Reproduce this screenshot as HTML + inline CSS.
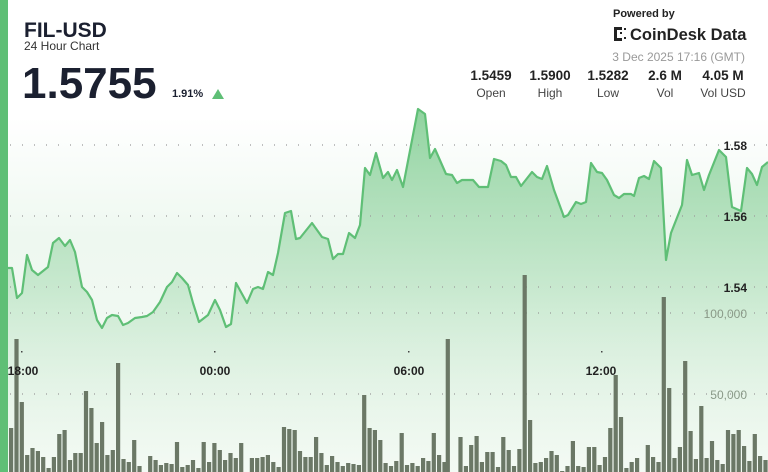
<!DOCTYPE html>
<html><head><meta charset="utf-8"><style>
body{margin:0;width:768px;height:472px;overflow:hidden;background:#fff;font-family:"Liberation Sans",sans-serif;}
svg{position:absolute;left:0;top:0}
</style></head><body>
<svg xmlns="http://www.w3.org/2000/svg" width="768" height="472" viewBox="0 0 768 472">
<defs>
<linearGradient id="bg" x1="0" y1="0" x2="0" y2="1">
<stop offset="0" stop-color="#fff"/><stop offset="0.25" stop-color="#fff"/><stop offset="0.5" stop-color="#eef8f0"/><stop offset="1" stop-color="#f6fbf6"/></linearGradient>
<linearGradient id="ar" x1="0" y1="110" x2="0" y2="472" gradientUnits="userSpaceOnUse">
<stop offset="0" stop-color="#7ccb8e" stop-opacity="0.85"/><stop offset="0.5" stop-color="#a9dcb4" stop-opacity="0.55"/><stop offset="1" stop-color="#e8f5ea" stop-opacity="0.2"/></linearGradient>
</defs>
<rect width="768" height="472" fill="url(#bg)"/>
<path fill="url(#ar)" d="M8,472 L8,268 12,268 17,298 22,293 27,255 32,270 38,275 48,267 53,243 59,238 65,246 70,240 75,252 82,287 87,292 92,300 97,320 102,328 107,318 112,315 118,316 123,325 128,323 135,318 142,317 147,316 153,312 160,302 167,287 172,282 177,273 182,278 188,285 193,303 199,322 208,315 215,300 220,310 226,327 231,324 236,283 247,303 253,289 258,287 263,289 268,272 273,275 278,253 285,213 291,211 296,239 300,238 312,223 322,237 328,239 333,259 338,254 343,254 349,233 355,238 360,225 365,168 370,175 376,153 383,178 388,172 392,180 397,170 403,187 418,109 425,114 430,158 435,149 446,174 452,175 457,183 462,180 473,180 479,187 488,187 494,159 501,161 506,165 511,177 516,177 521,186 532,172 537,177 542,179 547,166 554,190 564,217 568,215 576,202 581,204 586,202 591,163 597,172 602,173 607,180 614,195 619,198 624,194 631,194 634,196 639,178 644,176 649,179 654,161 661,168 666,260 671,233 682,205 687,160 692,175 699,173 704,190 709,175 719,150 726,157 732,207 741,211 747,168 752,174 757,185 762,167 768,162 L768,472 Z"/>
<g stroke="#9a9a9a" stroke-width="1.2" stroke-dasharray="1 11">
<line x1="10" x2="768" y1="145" y2="145"/><line x1="10" x2="768" y1="216" y2="216"/><line x1="10" x2="768" y1="287" y2="287"/><line x1="10" x2="768" y1="313" y2="313"/><line x1="10" x2="768" y1="394" y2="394"/></g>
<g fill="#6b7866">
<rect x="9" y="428" width="4.2" height="47"/><rect x="14.4" y="339" width="4.2" height="136"/><rect x="19.7" y="402" width="4.2" height="73"/><rect x="25.1" y="455" width="4.2" height="20"/><rect x="30.4" y="448" width="4.2" height="27"/><rect x="35.8" y="451" width="4.2" height="24"/><rect x="41.1" y="457" width="4.2" height="18"/><rect x="46.5" y="468" width="4.2" height="7"/><rect x="51.8" y="457" width="4.2" height="18"/><rect x="57.2" y="434" width="4.2" height="41"/><rect x="62.5" y="430" width="4.2" height="45"/><rect x="67.9" y="460" width="4.2" height="15"/><rect x="73.2" y="453" width="4.2" height="22"/><rect x="78.6" y="453" width="4.2" height="22"/><rect x="83.9" y="391" width="4.2" height="84"/><rect x="89.3" y="408" width="4.2" height="67"/><rect x="94.6" y="443" width="4.2" height="32"/><rect x="100" y="422" width="4.2" height="53"/><rect x="105.3" y="455" width="4.2" height="20"/><rect x="110.7" y="450" width="4.2" height="25"/><rect x="116" y="363" width="4.2" height="112"/><rect x="121.4" y="459" width="4.2" height="16"/><rect x="126.7" y="462" width="4.2" height="13"/><rect x="132.1" y="440" width="4.2" height="35"/><rect x="137.4" y="466" width="4.2" height="9"/><rect x="142.8" y="472" width="4.2" height="3"/><rect x="148.1" y="456" width="4.2" height="19"/><rect x="153.5" y="460" width="4.2" height="15"/><rect x="158.8" y="465" width="4.2" height="10"/><rect x="164.2" y="463" width="4.2" height="12"/><rect x="169.5" y="464" width="4.2" height="11"/><rect x="174.9" y="442" width="4.2" height="33"/><rect x="180.2" y="467" width="4.2" height="8"/><rect x="185.6" y="465" width="4.2" height="10"/><rect x="190.9" y="460" width="4.2" height="15"/><rect x="196.3" y="468" width="4.2" height="7"/><rect x="201.6" y="442" width="4.2" height="33"/><rect x="207" y="462" width="4.2" height="13"/><rect x="212.3" y="443" width="4.2" height="32"/><rect x="217.7" y="450" width="4.2" height="25"/><rect x="223" y="460" width="4.2" height="15"/><rect x="228.4" y="453" width="4.2" height="22"/><rect x="233.7" y="458" width="4.2" height="17"/><rect x="239.1" y="443" width="4.2" height="32"/><rect x="244.4" y="472" width="4.2" height="3"/><rect x="249.8" y="458" width="4.2" height="17"/><rect x="255.1" y="458" width="4.2" height="17"/><rect x="260.5" y="457" width="4.2" height="18"/><rect x="265.8" y="455" width="4.2" height="20"/><rect x="271.2" y="462" width="4.2" height="13"/><rect x="276.5" y="467" width="4.2" height="8"/><rect x="281.9" y="427" width="4.2" height="48"/><rect x="287.2" y="429" width="4.2" height="46"/><rect x="292.6" y="430" width="4.2" height="45"/><rect x="297.9" y="451" width="4.2" height="24"/><rect x="303.3" y="457" width="4.2" height="18"/><rect x="308.6" y="457" width="4.2" height="18"/><rect x="314" y="437" width="4.2" height="38"/><rect x="319.3" y="453" width="4.2" height="22"/><rect x="324.7" y="465" width="4.2" height="10"/><rect x="330" y="456" width="4.2" height="19"/><rect x="335.4" y="462" width="4.2" height="13"/><rect x="340.7" y="466" width="4.2" height="9"/><rect x="346.1" y="463" width="4.2" height="12"/><rect x="351.4" y="464" width="4.2" height="11"/><rect x="356.8" y="465" width="4.2" height="10"/><rect x="362.1" y="395" width="4.2" height="80"/><rect x="367.5" y="428" width="4.2" height="47"/><rect x="372.8" y="430" width="4.2" height="45"/><rect x="378.2" y="440" width="4.2" height="35"/><rect x="383.5" y="463" width="4.2" height="12"/><rect x="388.9" y="466" width="4.2" height="9"/><rect x="394.2" y="461" width="4.2" height="14"/><rect x="399.6" y="433" width="4.2" height="42"/><rect x="404.9" y="465" width="4.2" height="10"/><rect x="410.3" y="463" width="4.2" height="12"/><rect x="415.6" y="466" width="4.2" height="9"/><rect x="421" y="458" width="4.2" height="17"/><rect x="426.3" y="461" width="4.2" height="14"/><rect x="431.7" y="433" width="4.2" height="42"/><rect x="437" y="455" width="4.2" height="20"/><rect x="442.4" y="462" width="4.2" height="13"/><rect x="445.7" y="339" width="4.2" height="136"/><rect x="453.1" y="472" width="4.2" height="3"/><rect x="458.4" y="437" width="4.2" height="38"/><rect x="463.8" y="466" width="4.2" height="9"/><rect x="469.1" y="445" width="4.2" height="30"/><rect x="474.5" y="436" width="4.2" height="39"/><rect x="479.8" y="462" width="4.2" height="13"/><rect x="485.2" y="452" width="4.2" height="23"/><rect x="490.5" y="452" width="4.2" height="23"/><rect x="495.9" y="467" width="4.2" height="8"/><rect x="501.2" y="437" width="4.2" height="38"/><rect x="506.6" y="450" width="4.2" height="25"/><rect x="511.9" y="466" width="4.2" height="9"/><rect x="517.3" y="449" width="4.2" height="26"/><rect x="522.6" y="275" width="4.2" height="200"/><rect x="528" y="420" width="4.2" height="55"/><rect x="533.3" y="463" width="4.2" height="12"/><rect x="538.7" y="462" width="4.2" height="13"/><rect x="544" y="458" width="4.2" height="17"/><rect x="549.4" y="451" width="4.2" height="24"/><rect x="554.7" y="455" width="4.2" height="20"/><rect x="560.1" y="471" width="4.2" height="4"/><rect x="565.4" y="466" width="4.2" height="9"/><rect x="570.8" y="441" width="4.2" height="34"/><rect x="576.1" y="466" width="4.2" height="9"/><rect x="581.5" y="467" width="4.2" height="8"/><rect x="586.8" y="447" width="4.2" height="28"/><rect x="592.2" y="447" width="4.2" height="28"/><rect x="597.5" y="465" width="4.2" height="10"/><rect x="602.9" y="457" width="4.2" height="18"/><rect x="608.2" y="428" width="4.2" height="47"/><rect x="613.6" y="375" width="4.2" height="100"/><rect x="618.9" y="417" width="4.2" height="58"/><rect x="624.3" y="468" width="4.2" height="7"/><rect x="629.6" y="462" width="4.2" height="13"/><rect x="635" y="458" width="4.2" height="17"/><rect x="640.3" y="472" width="4.2" height="3"/><rect x="645.7" y="445" width="4.2" height="30"/><rect x="651" y="457" width="4.2" height="18"/><rect x="656.4" y="462" width="4.2" height="13"/><rect x="661.7" y="297" width="4.2" height="178"/><rect x="667.1" y="388" width="4.2" height="87"/><rect x="672.4" y="458" width="4.2" height="17"/><rect x="677.8" y="447" width="4.2" height="28"/><rect x="683.1" y="361" width="4.2" height="114"/><rect x="688.5" y="431" width="4.2" height="44"/><rect x="693.8" y="459" width="4.2" height="16"/><rect x="699.2" y="406" width="4.2" height="69"/><rect x="704.5" y="458" width="4.2" height="17"/><rect x="709.9" y="441" width="4.2" height="34"/><rect x="715.2" y="460" width="4.2" height="15"/><rect x="720.6" y="464" width="4.2" height="11"/><rect x="725.9" y="430" width="4.2" height="45"/><rect x="731.3" y="434" width="4.2" height="41"/><rect x="736.6" y="430" width="4.2" height="45"/><rect x="742" y="446" width="4.2" height="29"/><rect x="747.3" y="461" width="4.2" height="14"/><rect x="752.7" y="434" width="4.2" height="41"/><rect x="758" y="456" width="4.2" height="19"/><rect x="763.4" y="460" width="4.2" height="15"/>
</g>
<polyline fill="none" stroke="#5fbf76" stroke-width="2.2" stroke-linejoin="round" points="8,268 12,268 17,298 22,293 27,255 32,270 38,275 48,267 53,243 59,238 65,246 70,240 75,252 82,287 87,292 92,300 97,320 102,328 107,318 112,315 118,316 123,325 128,323 135,318 142,317 147,316 153,312 160,302 167,287 172,282 177,273 182,278 188,285 193,303 199,322 208,315 215,300 220,310 226,327 231,324 236,283 247,303 253,289 258,287 263,289 268,272 273,275 278,253 285,213 291,211 296,239 300,238 312,223 322,237 328,239 333,259 338,254 343,254 349,233 355,238 360,225 365,168 370,175 376,153 383,178 388,172 392,180 397,170 403,187 418,109 425,114 430,158 435,149 446,174 452,175 457,183 462,180 473,180 479,187 488,187 494,159 501,161 506,165 511,177 516,177 521,186 532,172 537,177 542,179 547,166 554,190 564,217 568,215 576,202 581,204 586,202 591,163 597,172 602,173 607,180 614,195 619,198 624,194 631,194 634,196 639,178 644,176 649,179 654,161 661,168 666,260 671,233 682,205 687,160 692,175 699,173 704,190 709,175 719,150 726,157 732,207 741,211 747,168 752,174 757,185 762,167 768,162"/>
<rect x="0" y="0" width="8" height="472" fill="#5fbf76"/>
<g font-weight="bold" fill="#1b2030">
<text x="24" y="37" font-size="21">FIL-USD</text>
<text x="24" y="50" font-size="12" font-weight="normal" fill="#333">24 Hour Chart</text>
<text x="22" y="98" font-size="44">1.5755</text>
<text x="172" y="97" font-size="11">1.91%</text>
</g>
<polygon points="212,99 224,99 218,89" fill="#5fbf76"/>
<text x="613" y="17" font-size="11" font-weight="bold" fill="#222">Powered by</text>
<g fill="#222"><rect x="614" y="27" width="3" height="14"/><rect x="614" y="27" width="8" height="3"/><rect x="614" y="38" width="8" height="3"/><rect x="620" y="32" width="2" height="2"/><rect x="624" y="28" width="2" height="2"/><rect x="624" y="37" width="2" height="2"/></g>
<text x="630" y="40" font-size="16.5" font-weight="bold" fill="#222">CoinDesk Data</text>
<text x="745" y="61" font-size="12" fill="#999" text-anchor="end">3 Dec 2025 17:16 (GMT)</text>
<g font-size="13.5" font-weight="bold" fill="#222" text-anchor="middle">
<text x="491" y="80">1.5459</text><text x="550" y="80">1.5900</text><text x="608" y="80">1.5282</text><text x="665" y="80">2.6 M</text><text x="723" y="80">4.05 M</text></g>
<g font-size="12" fill="#444" text-anchor="middle">
<text x="491" y="97">Open</text><text x="550" y="97">High</text><text x="608" y="97">Low</text><text x="665" y="97">Vol</text><text x="723" y="97">Vol USD</text></g>
<g font-size="12" font-weight="bold" fill="#222" text-anchor="end">
<text x="747" y="150">1.58</text><text x="747" y="221">1.56</text><text x="747" y="292">1.54</text></g>
<g font-size="12" fill="#8a9a88" text-anchor="end">
<text x="747" y="318">100,000</text><text x="747" y="399">50,000</text></g>
<g font-size="12" font-weight="bold" fill="#222" text-anchor="middle">
<text x="23" y="375">18:00</text><text x="215" y="375">00:00</text><text x="409" y="375">06:00</text><text x="601" y="375">12:00</text></g>
<g fill="#444"><rect x="21" y="351" width="1.5" height="1.5"/><rect x="214" y="351" width="1.5" height="1.5"/><rect x="408" y="351" width="1.5" height="1.5"/><rect x="601" y="351" width="1.5" height="1.5"/></g>
</svg>
</body></html>
